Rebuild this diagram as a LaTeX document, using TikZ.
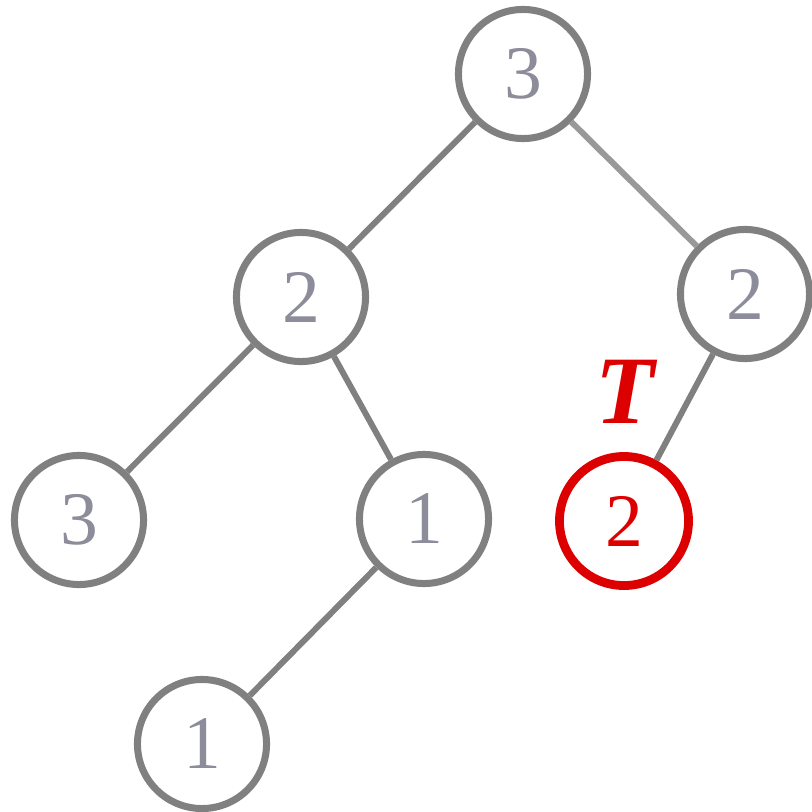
\documentclass[tikz,border=0pt]{standalone}
\usepackage{fontspec}
\setmainfont{Liberation Serif}
\usetikzlibrary{positioning}

\definecolor{bordo}{HTML}{808080}
\definecolor{ramo}{HTML}{808080}
\definecolor{ramochiaro}{HTML}{999999}
\definecolor{cifra}{HTML}{8C8C9A}
\definecolor{rosso}{HTML}{DD0000}

\tikzset{
    nodo/.style={circle, draw=bordo, line width=2pt, minimum size=1.29cm, inner sep=0pt,
        text=cifra, font=\fontsize{21.5}{24}\selectfont},
    nodorosso/.style={nodo, draw=rosso, text=rosso, line width=2.5pt},
    arco/.style={draw=ramo, line width=1.7pt},
}

\begin{document}
\begin{tikzpicture}[x=0.01cm, y=-0.01cm]
        \useasboundingbox (0,0) rectangle (812,812);

        % Nodi
        \node[nodo] (r) at (523,74) {3};
        \node[nodo] (a) at (301,297) {2};
        \node[nodo] (b) at (745,294) {2};
        \node[nodo] (c) at (79,520) {3};
        \node[nodo] (d) at (424,519) {1};
        \node[nodorosso] (e) at (624,521) {2};
        \node[nodo] (f) at (202,744) {1};

        \node[text=rosso, font=\fontsize{27.5}{30}\bfseries\itshape] (t) at (625,392) {T};

        % Archi
        \draw[arco] (r)--(a);
        \draw[arco, draw=ramochiaro] (r)--(b);
        \draw[arco] (a)--(c);
        \draw[arco] (a)--(d);
        \draw[arco] (d)--(f);
        \draw[arco] (b)--(e);
    \end{tikzpicture}
\end{document}
